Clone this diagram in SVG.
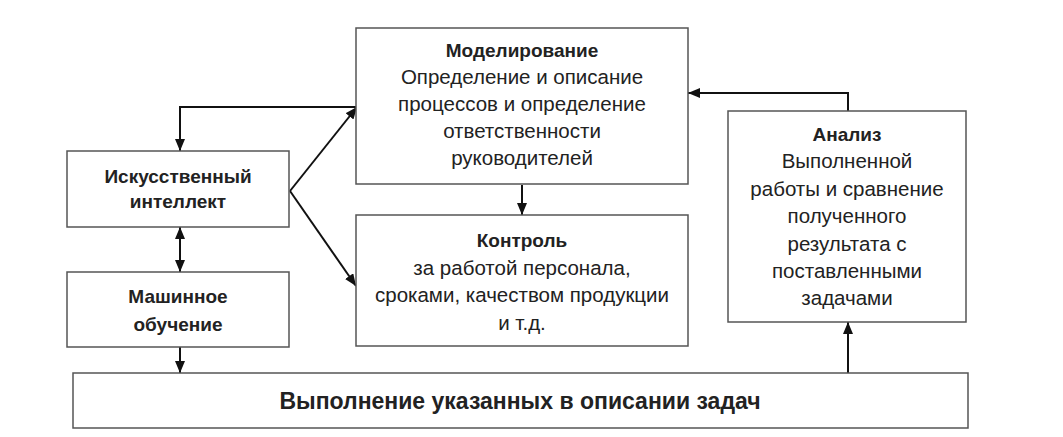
<svg xmlns="http://www.w3.org/2000/svg" width="1063" height="437" viewBox="0 0 1063 437">
<style>
.box{fill:#fff;stroke:#555;stroke-width:1.5}
.t{font-family:"Liberation Sans",Arial,sans-serif;font-size:20.5px;fill:#222;text-anchor:middle}
.b{font-weight:bold;font-size:19px}
.big{font-size:23px}
.c{fill:none;stroke:#111;stroke-width:2}
</style>
<defs>
<marker id="ah" viewBox="0 0 12 10" refX="12" refY="5" markerWidth="6" markerHeight="5" orient="auto-start-reverse" markerUnits="strokeWidth">
<path d="M0,0 L12,5 L0,10 z" fill="#111"/>
</marker>
</defs>
<rect width="1063" height="437" fill="#fff"/>
<g id="connectors">
<path class="c" d="M357,107 H180 V151" marker-end="url(#ah)"/>
<path class="c" d="M290,191 L357,107" marker-end="url(#ah)"/>
<path class="c" d="M290,191 L356,286" marker-end="url(#ah)"/>
<path class="c" d="M180,227 V272" marker-start="url(#ah)" marker-end="url(#ah)"/>
<path class="c" d="M180,347 V373" marker-end="url(#ah)"/>
<path class="c" d="M522,185 V215" marker-end="url(#ah)"/>
<path class="c" d="M848,373 V322" marker-end="url(#ah)"/>
<path class="c" d="M848,111 V93 H688" marker-end="url(#ah)"/>
</g>
<g id="modeling">
<rect class="box" x="356" y="28" width="332" height="156"/>
<text class="t b" x="522" y="57">Моделирование</text>
<text class="t" x="522" y="84">Определение и описание</text>
<text class="t" x="522" y="111">процессов и определение</text>
<text class="t" x="522" y="138">ответственности</text>
<text class="t" x="522" y="165">руководителей</text>
</g>
<g id="ai">
<rect class="box" x="67" y="151" width="222" height="76"/>
<text class="t b" x="178" y="183">Искусственный</text>
<text class="t b" x="178" y="208">интеллект</text>
</g>
<g id="control">
<rect class="box" x="356" y="215" width="332" height="131"/>
<text class="t b" x="522" y="247">Контроль</text>
<text class="t" x="522" y="275">за работой персонала,</text>
<text class="t" x="522" y="302">сроками, качеством продукции</text>
<text class="t" x="522" y="330">и т.д.</text>
</g>
<g id="ml">
<rect class="box" x="67" y="272" width="222" height="75"/>
<text class="t b" x="178" y="303">Машинное</text>
<text class="t b" x="178" y="331">обучение</text>
</g>
<g id="analysis">
<rect class="box" x="728" y="111" width="238" height="211"/>
<text class="t b" x="847" y="141">Анализ</text>
<text class="t" x="847" y="168">Выполненной</text>
<text class="t" x="847" y="196">работы и сравнение</text>
<text class="t" x="847" y="223">полученного</text>
<text class="t" x="847" y="251">результата с</text>
<text class="t" x="847" y="278">поставленными</text>
<text class="t" x="847" y="305">задачами</text>
</g>
<g id="execution">
<rect class="box" x="73" y="373" width="895" height="55"/>
<text class="t b big" x="520" y="409">Выполнение указанных в описании задач</text>
</g>
</svg>
